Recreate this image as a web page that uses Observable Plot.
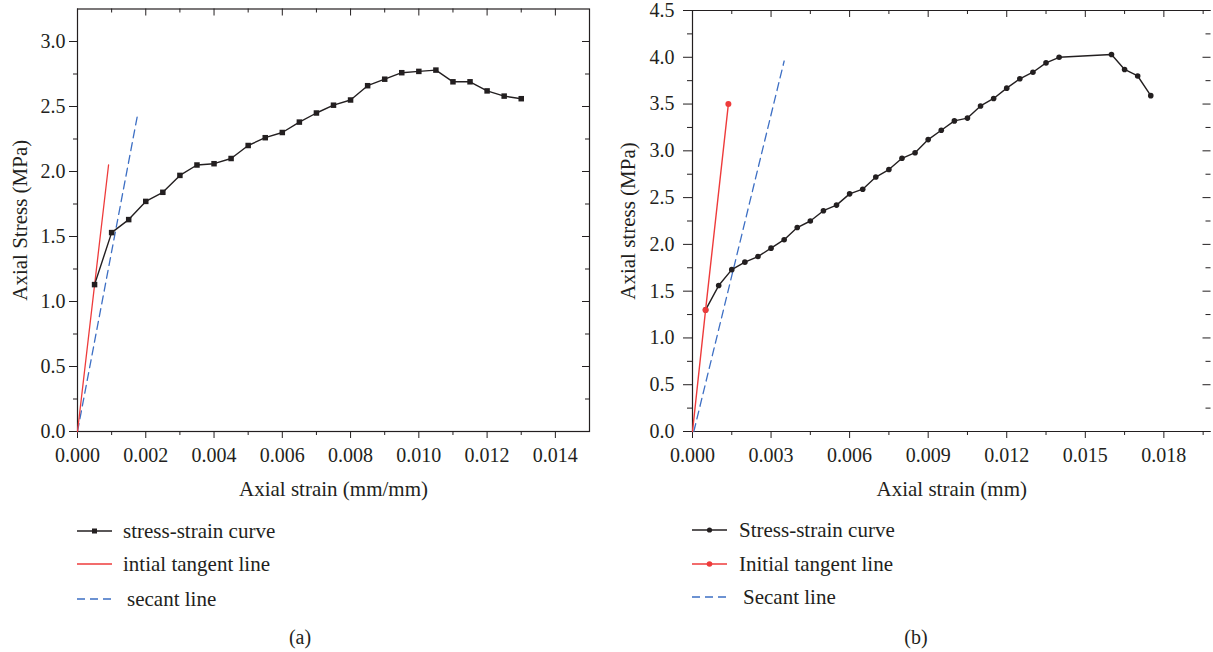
<!DOCTYPE html>
<html><head><meta charset="utf-8">
<script src="https://cdn.jsdelivr.net/npm/d3@7"></script>
<script src="https://cdn.jsdelivr.net/npm/@observablehq/plot@0.6"></script>
<style>
body{margin:0;background:#fff;}
#wrap{position:relative;width:1213px;height:652px;font-family:"Liberation Serif","Times New Roman",serif;color:#231f20;overflow:hidden;background:#fff;}
.pl{position:absolute;top:0;}
.pl g[aria-label="x-axis label"], .pl g[aria-label="y-axis label"]{font-size:21px;}
.row{position:absolute;height:24px;display:flex;align-items:center;font-size:21px;white-space:nowrap;}
.row svg{position:absolute;left:0;top:6px;}
.cap{position:absolute;font-size:20px;transform:translate(-50%,-50%);}
</style></head><body><div id="wrap"></div>
<script>
// ---------- (a) ----------
const strainA = [0.0005,0.001,0.0015,0.002,0.0025,0.003,0.0035,0.004,0.0045,0.005,0.0055,0.006,0.0065,0.007,0.0075,0.008,0.0085,0.009,0.0095,0.010,0.0105,0.011,0.0115,0.012,0.0125,0.013];
const stressA = [1.13,1.53,1.63,1.77,1.84,1.97,2.05,2.06,2.10,2.20,2.26,2.30,2.38,2.45,2.51,2.55,2.66,2.71,2.76,2.77,2.78,2.69,2.69,2.62,2.58,2.56];
const tangentAx = [0, 0.00091];
const tangentAy = [0, 2.05];
const secantAx = [0, 0.00177];
const secantAy = [0, 2.45];
const xMajorA = [0,0.002,0.004,0.006,0.008,0.010,0.012,0.014];
const xMinorA = [0.001,0.003,0.005,0.007,0.009,0.011,0.013];
const yMajorA = [0,0.5,1.0,1.5,2.0,2.5,3.0];
const yMinorA = [0.25,0.75,1.25,1.75,2.25,2.75];
const legendA = ["stress-strain curve","intial tangent line","secant line"];

// ---------- (b) ----------
const strainB = [0.0005,0.001,0.0015,0.002,0.0025,0.003,0.0035,0.004,0.0045,0.005,0.0055,0.006,0.0065,0.007,0.0075,0.008,0.0085,0.009,0.0095,0.010,0.0105,0.011,0.0115,0.012,0.0125,0.013,0.0135,0.014,0.016,0.0165,0.017,0.0175];
const stressB = [1.30,1.56,1.73,1.81,1.87,1.96,2.05,2.18,2.25,2.36,2.42,2.54,2.59,2.72,2.80,2.92,2.98,3.12,3.22,3.32,3.35,3.48,3.56,3.67,3.77,3.84,3.94,4.00,4.03,3.87,3.80,3.59];
const tangentBx = [0, 0.0005, 0.00137];
const tangentBy = [0, 1.30, 3.50];
const tangentDotBx = [0.0005, 0.00137];
const tangentDotBy = [1.30, 3.50];
const secantBx = [0.00005, 0.0035];
const secantBy = [0, 3.96];
const xMajorB = [0,0.003,0.006,0.009,0.012,0.015,0.018];
const xMinorB = [0.0015,0.0045,0.0075,0.0105,0.0135,0.0165,0.0195];
const yMajorB = [0,0.5,1.0,1.5,2.0,2.5,3.0,3.5,4.0,4.5];
const yMinorB = [0.25,0.75,1.25,1.75,2.25,2.75,3.25,3.75,4.25];
const legendB = ["Stress-strain curve","Initial tangent line","Secant line"];

const INK = "#231f20", RED = "#ee3b3b", BLUE = "#3d6fc4";
const FONT = '"Liberation Serif","Times New Roman",serif';
const pts = (xs, ys) => xs.map((x, i) => ({x, y: ys[i]}));
const wrap = document.getElementById("wrap");

function place(el, left) { el.classList.add("pl"); el.style.left = left + "px"; wrap.appendChild(el); }

// Plot (a)
{
  const W = 600, H = 505, mt = 8.5, mb = 74, ml = 77, mr = 11;
  const fh = H - mt - mb, fw = W - ml - mr;
  const p = Plot.plot({
    width: W, height: H, marginTop: mt, marginBottom: mb, marginLeft: ml, marginRight: mr,
    style: {fontFamily: FONT, fontSize: "20px", color: INK, background: "white"},
    x: {domain: [0, 0.015]},
    y: {domain: [0, 3.25]},
    marks: [
      Plot.frame({stroke: INK, strokeWidth: 1.2}),
      Plot.axisX(xMajorA, {anchor: "bottom", tickSize: 7, tickPadding: 9, tickFormat: d3.format(".3f"), stroke: INK, fill: INK,
        label: "Axial strain (mm/mm)", labelAnchor: "center", labelOffset: 64, labelArrow: "none"}),
      Plot.axisX(xMinorA, {anchor: "bottom", tickSize: 4, tickFormat: () => "", stroke: INK, label: null}),
      Plot.axisY(yMajorA, {anchor: "left", tickSize: 8, tickPadding: 4, tickFormat: d3.format(".1f"), stroke: INK, fill: INK,
        label: "Axial Stress (MPa)", labelAnchor: "center", labelOffset: 65, labelArrow: "none"}),
      Plot.axisY(yMinorA, {anchor: "left", tickSize: 4, tickFormat: () => "", stroke: INK, label: null}),
      Plot.tickX(xMajorA, {x: d => d, insetBottom: fh - 7, stroke: INK}),
      Plot.tickX(xMinorA, {x: d => d, insetBottom: fh - 4, stroke: INK}),
      Plot.tickY(yMajorA, {y: d => d, insetLeft: fw - 7, stroke: INK}),
      Plot.tickY(yMinorA, {y: d => d, insetLeft: fw - 4, stroke: INK}),
      Plot.line(pts(secantAx, secantAy), {x: "x", y: "y", stroke: BLUE, strokeWidth: 1.3, strokeDasharray: "8,5"}),
      Plot.line(pts(tangentAx, tangentAy), {x: "x", y: "y", stroke: RED, strokeWidth: 1.3}),
      Plot.line(pts(strainA, stressA), {x: "x", y: "y", stroke: INK, strokeWidth: 1.4}),
      Plot.dot(pts(strainA, stressA), {x: "x", y: "y", symbol: "square", r: 3.1, fill: INK, stroke: "none"})
    ]
  });
  place(p, 0);
}

// Plot (b)
{
  const W = 603, H = 505, mt = 10, mb = 74, ml = 82, mr = 2.5;
  const fh = H - mt - mb, fw = W - ml - mr;
  const p = Plot.plot({
    width: W, height: H, marginTop: mt, marginBottom: mb, marginLeft: ml, marginRight: mr,
    style: {fontFamily: FONT, fontSize: "20px", color: INK, background: "white", overflow: "visible"},
    x: {domain: [0, 0.0198]},
    y: {domain: [0, 4.5]},
    marks: [
      Plot.ruleY([0, 4.5], {stroke: INK, strokeWidth: 1.2}),
      Plot.ruleX([0], {stroke: INK, strokeWidth: 1.2}),
      Plot.axisX(xMajorB, {anchor: "bottom", tickSize: 7, tickPadding: 9, tickFormat: d3.format(".3f"), stroke: INK, fill: INK,
        label: "Axial strain (mm)", labelAnchor: "center", labelOffset: 64, labelArrow: "none"}),
      Plot.axisX(xMinorB, {anchor: "bottom", tickSize: 4, tickFormat: () => "", stroke: INK, label: null}),
      Plot.axisY(yMajorB, {anchor: "left", tickSize: 9, tickPadding: 9, tickFormat: d3.format(".1f"), stroke: INK, fill: INK,
        label: "Axial stress (MPa)", labelAnchor: "center", labelOffset: 72, labelArrow: "none"}),
      Plot.axisY(yMinorB, {anchor: "left", tickSize: 5, tickFormat: () => "", stroke: INK, label: null}),
      Plot.tickX(xMajorB, {x: d => d, insetBottom: fh - 7, stroke: INK}),
      Plot.tickX(xMinorB, {x: d => d, insetBottom: fh - 4, stroke: INK}),
      Plot.tickY(yMajorB, {y: d => d, insetLeft: fw - 8, stroke: INK}),
      Plot.tickY(yMinorB, {y: d => d, insetLeft: fw - 5, stroke: INK}),
      Plot.line(pts(secantBx, secantBy), {x: "x", y: "y", stroke: BLUE, strokeWidth: 1.3, strokeDasharray: "8,5"}),
      Plot.line(pts(strainB, stressB), {x: "x", y: "y", stroke: INK, strokeWidth: 1.4}),
      Plot.dot(pts(strainB, stressB), {x: "x", y: "y", r: 2.8, fill: INK, stroke: "none"}),
      Plot.line(pts(tangentBx, tangentBy), {x: "x", y: "y", stroke: RED, strokeWidth: 1.4}),
      Plot.dot(pts(tangentDotBx, tangentDotBy), {x: "x", y: "y", r: 3, fill: RED, stroke: "none"})
    ]
  });
  place(p, 610);
}

// Legends
function legendRow(left, cy, textLeft, label, kind) {
  const row = document.createElement("div");
  row.className = "row";
  row.style.left = left + "px";
  row.style.top = (cy - 12) + "px";
  const svg = d3.create("svg").attr("width", 36).attr("height", 12);
  const ln = svg.append("line").attr("x1", 0).attr("x2", 35).attr("y1", 6).attr("y2", 6).attr("stroke-width", 1.4);
  if (kind === "sq") { ln.attr("stroke", INK); svg.append("rect").attr("x", 15).attr("y", 3.5).attr("width", 5).attr("height", 5).attr("fill", INK); }
  if (kind === "dot") { ln.attr("stroke", INK); svg.append("circle").attr("cx", 17.5).attr("cy", 6).attr("r", 2.6).attr("fill", INK); }
  if (kind === "red") { ln.attr("stroke", RED); }
  if (kind === "reddot") { ln.attr("stroke", RED); svg.append("circle").attr("cx", 17.5).attr("cy", 6).attr("r", 2.8).attr("fill", RED); }
  if (kind === "dash") { ln.attr("stroke", BLUE).attr("stroke-dasharray", "8,5"); }
  row.appendChild(svg.node());
  const span = document.createElement("span");
  span.textContent = label;
  span.style.marginLeft = (textLeft - left) + "px";
  row.appendChild(span);
  wrap.appendChild(row);
}
const kindsA = ["sq", "red", "dash"], kindsB = ["dot", "reddot", "dash"];
const rowsA = [531, 564, 599], rowsB = [530, 564, 597];
const textA = [123, 123, 127], textB = [739, 739, 743];
legendA.forEach((t, i) => legendRow(77, rowsA[i], textA[i], t, kindsA[i]));
legendB.forEach((t, i) => legendRow(692, rowsB[i], textB[i], t, kindsB[i]));

// Captions
const captions = [["(a)", 300, 637], ["(b)", 916, 637]];
captions.forEach(([t, x, y]) => {
  const d = document.createElement("div");
  d.className = "cap"; d.textContent = t; d.style.left = x + "px"; d.style.top = y + "px";
  wrap.appendChild(d);
});
</script></body></html>
